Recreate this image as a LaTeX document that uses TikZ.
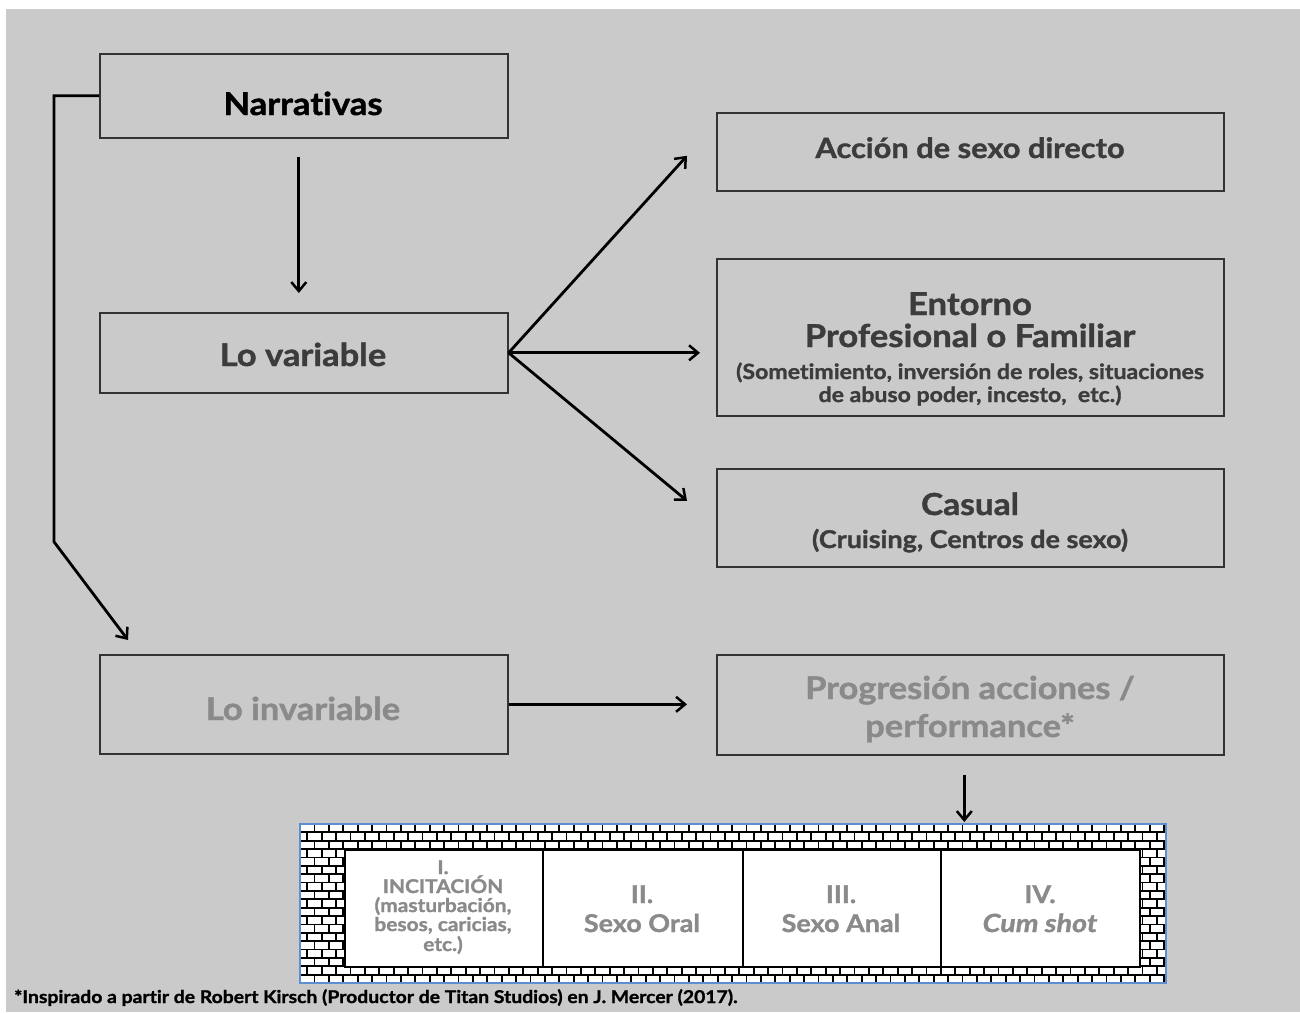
\documentclass[tikz,border=0pt]{standalone}
\usepackage{fontspec}
\setmainfont{Lato}[Ligatures=NoCommon,BoldFeatures={FakeBold=1.3,FakeStretch=1.1},BoldItalicFeatures={FakeBold=1.3,FakeStretch=1.15}]
\usetikzlibrary{arrows.meta,calc}
\definecolor{bg}{HTML}{CACACA}
\definecolor{dk}{HTML}{3C3C3C}
\definecolor{lt}{HTML}{8A8A8A}
\definecolor{brd}{HTML}{5B8FD0}
\definecolor{edge}{HTML}{333333}
\begin{document}
\begin{tikzpicture}[x=1pt,y=-1pt,
  box/.style={draw=edge, line width=1.6pt, inner sep=0pt, anchor=north west},
  cell/.style={draw=black, line width=1.5pt, fill=white, inner sep=0pt, anchor=north west, minimum height=117pt},
  txt/.style={anchor=base, inner sep=0pt, font=\bfseries},
  arr/.style={line width=2.8pt, black, -{Straight Barb[length=9pt,width=15pt,line width=2.5pt]}},
  mortar/.style={line width=1.8pt, black}]
\useasboundingbox (0,0) rectangle (1300,1012);
\fill[white] (0,0) rectangle (1300,1012);
\fill[bg] (6,9) rectangle (1300,1012);

% left column boxes
\node[box, minimum width=408pt, minimum height=84pt] (narr) at (99,53) {};
\node[box, minimum width=408pt, minimum height=80pt] (var) at (99,312) {};
\node[box, minimum width=408pt, minimum height=99pt] (inv) at (99,654) {};
% right column boxes
\node[box, minimum width=507pt, minimum height=78pt] (acc) at (716,112) {};
\node[box, minimum width=507pt, minimum height=157pt] (ent) at (716,258) {};
\node[box, minimum width=507pt, minimum height=98pt] (cas) at (716,468) {};
\node[box, minimum width=507pt, minimum height=100pt] (prog) at (716,654) {};

% texts
\node[txt, text=black, font=\bfseries\fontsize{31.5}{36}\selectfont] (narrT) at (303,115) {Narrativas};
\node[txt, text=dk, font=\bfseries\fontsize{31.4}{36}\selectfont] (varT) at (303,366) {Lo variable};
\node[txt, text=lt, font=\bfseries\fontsize{31.4}{36}\selectfont] (invT) at (303,720) {Lo invariable};
\node[txt, text=dk, font=\bfseries\fontsize{28}{34}\selectfont] (accT) at (970,158) {Acción de sexo directo};
\node[txt, text=dk, font=\bfseries\fontsize{31.5}{34}\selectfont] (entT1) at (970,315) {Entorno};
\node[txt, text=dk, font=\bfseries\fontsize{31.5}{34}\selectfont] (entT2) at (970,347) {Profesional o Familiar};
\node[txt, text=dk, font=\bfseries\fontsize{21}{24}\selectfont] (entT3) at (970,379) {(Sometimiento, inversión de roles, situaciones};
\node[txt, text=dk, font=\bfseries\fontsize{21}{24}\selectfont] (entT4) at (970,402) {de abuso poder, incesto,\ \ etc.)};
\node[txt, text=dk, font=\bfseries\fontsize{30.4}{34}\selectfont] (casT1) at (970,515) {Casual};
\node[txt, text=dk, font=\bfseries\fontsize{24.5}{26}\selectfont] (casT2) at (970,548) {(Cruising, Centros de sexo)};
\node[txt, text=lt, font=\bfseries\fontsize{31.3}{36}\selectfont] (progT1) at (970,699) {Progresión acciones /};
\node[txt, text=lt, font=\bfseries\fontsize{31.3}{36}\selectfont] (progT2) at (970,737) {performance*};

% arrows
\draw[arr] ([xshift=-5pt,yshift=-18pt]narr.south) -- ([xshift=-5pt,yshift=19pt]var.north);
\draw[arr] (var.east) -- ([xshift=-29pt,yshift=-4pt]acc.west);
\draw[arr] (var.east) -- ([xshift=-16pt]var.east -| ent.west);
\draw[arr] (var.east) -- ([xshift=-29pt,yshift=17pt]cas.west);
\draw[arr] (narr.west) -- ++(-45,0) -- ++(0,446) -- ([xshift=29pt,yshift=14pt]inv.north west);
\draw[arr] (inv.east) -- ([xshift=-29pt]inv.east -| prog.west);

% brick frame
\node[inner sep=0pt, anchor=north west, minimum width=866pt, minimum height=159pt] (frame) at (300,824) {};
\begin{scope}
  \clip (300,824) rectangle (1166,983);
  \fill[white] (300,824) rectangle (1166,983);
  \foreach \k in {0,...,18} {
    \pgfmathsetmacro\ya{824+\k*8.368}
    \pgfmathsetmacro\yb{\ya+8.368}
    \pgfmathsetmacro\off{mod(\k,2)*7.2}
    \draw[mortar] (300,\ya) -- (1166,\ya);
    \foreach \j in {0,...,61} {
      \pgfmathsetmacro\xx{300+\off+\j*14.4}
      \draw[mortar] (\xx,\ya) -- (\xx,\yb);
    }
  }
\end{scope}
\draw[brd, line width=2pt] (frame.north west) rectangle (frame.south east);

\node[cell, minimum width=198pt] (c1) at (344,849) {};
\node[cell, minimum width=200pt] (c2) at (542,849) {};
\node[cell, minimum width=198pt] (c3) at (742,849) {};
\node[cell, minimum width=199pt] (c4) at (940,849) {};

\draw[arr] ([xshift=-6pt,yshift=-19pt]prog.south) -- ([xshift=-6pt,yshift=2pt]prog.south |- frame.north);

\node[txt, text=lt, font=\bfseries\fontsize{19}{22}\selectfont] (c1a) at (443,874) {I.};
\node[txt, text=lt, font=\bfseries\fontsize{19}{22}\selectfont] (c1b) at (443,893) {INCITACIÓN};
\node[txt, text=lt, font=\bfseries\fontsize{19}{22}\selectfont] (c1c) at (443,912) {(masturbación,};
\node[txt, text=lt, font=\bfseries\fontsize{19}{22}\selectfont] (c1d) at (443,931) {besos, caricias,};
\node[txt, text=lt, font=\bfseries\fontsize{19}{22}\selectfont] (c1e) at (443,951) {etc.)};
\node[txt, text=lt, font=\bfseries\fontsize{24.5}{26}\selectfont] (c2a) at (642,903) {II.};
\node[txt, text=lt, font=\bfseries\fontsize{24.5}{26}\selectfont] (c2b) at (642,932) {Sexo Oral};
\node[txt, text=lt, font=\bfseries\fontsize{24.5}{26}\selectfont] (c3a) at (841,903) {III.};
\node[txt, text=lt, font=\bfseries\fontsize{24.5}{26}\selectfont] (c3b) at (841,932) {Sexo Anal};
\node[txt, text=lt, font=\bfseries\fontsize{24.5}{26}\selectfont] (c4a) at (1040,903) {IV.};
\node[txt, text=lt, font=\bfseries\itshape\fontsize{25}{26}\selectfont] (c4b) at (1040,932) {Cum shot};

\node[txt, anchor=base west, text=black, font=\bfseries\fontsize{17.6}{20}\selectfont] (note) at (14,1003) {*Inspirado a partir de Robert Kirsch (Productor de Titan Studios) en J. Mercer (2017).};
\end{tikzpicture}
\end{document}
